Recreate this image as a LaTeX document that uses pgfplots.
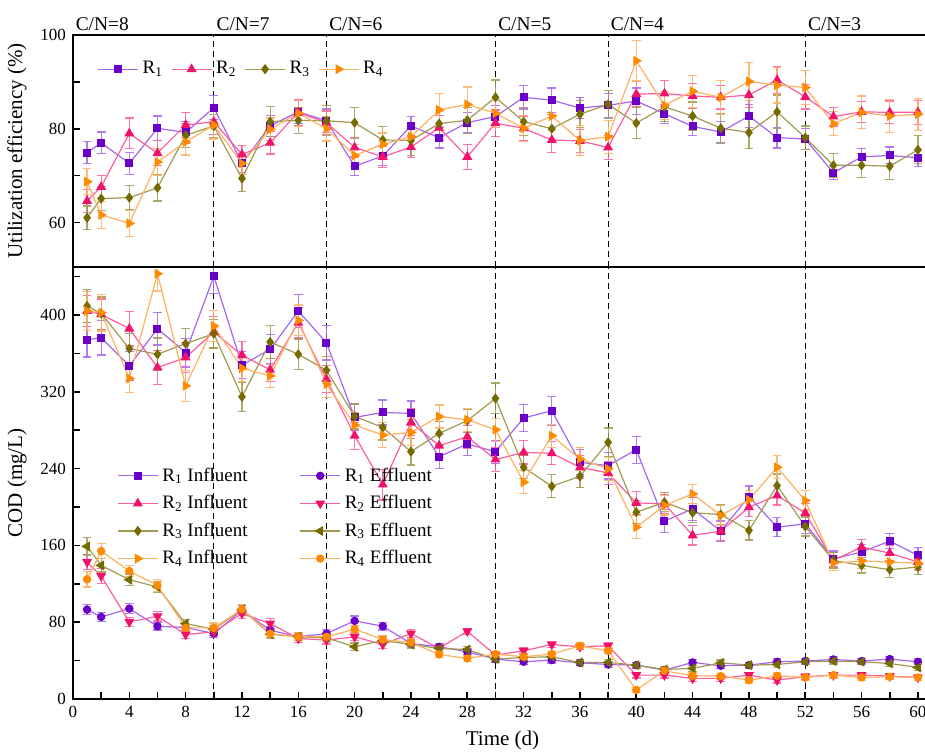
\documentclass[border=0pt]{standalone}
\usepackage{fontspec}
\setmainfont{Liberation Serif}
\usepackage{pgfplots}
\usepackage{pgfplotstable}
\pgfplotsset{compat=1.18}
\usetikzlibrary{calc}

\definecolor{c1}{HTML}{6A00C8}\definecolor{c1l}{HTML}{A465F0}
\definecolor{c2}{HTML}{F0116B}\definecolor{c2l}{HTML}{FF5C9D}
\definecolor{c3}{HTML}{756B00}\definecolor{c3l}{HTML}{A09A50}
\definecolor{c4}{HTML}{FF8A00}\definecolor{c4l}{HTML}{FFB060}

% day, R1, err, R2, err, R3, err, R4, err
\pgfplotstableread{
d a ea b eb c ec f ef
1  74.9 2.4 64.6 2.4 61.0 2.5 68.7 2.8
2  77.0 2.3 67.6 2.4 65.1 2.5 61.6 2.8
4  72.6 2.3 79.0 3.3 65.3 2.6 59.8 2.8
6  80.1 2.6 74.8 2.7 67.4 2.8 72.9 2.8
8  79.2 2.4 80.8 2.7 78.6 2.6 77.2 2.8
10 84.5 2.6 81.5 2.8 80.6 2.5 80.8 3.0
12 72.6 2.0 74.5 2.0 69.4 2.8 72.6 2.4
14 80.6 2.2 77.0 2.4 81.5 3.2 79.9 2.4
16 83.6 2.4 83.5 2.8 81.8 2.8 83.3 2.8
18 81.7 2.5 81.3 2.5 81.7 3.2 80.0 2.6
20 72.0 2.0 76.0 2.2 81.3 3.3 74.3 2.4
22 74.2 2.0 74.0 2.2 77.6 2.8 76.7 2.4
24 80.6 2.0 76.1 2.2 77.5 3.2 78.3 2.8
26 78.1 2.2 80.2 2.6 81.1 2.8 84.0 3.5
28 81.3 2.2 74.0 2.7 81.8 2.8 85.2 3.7
30 82.6 2.4 81.2 2.8 86.7 3.7 83.3 3.0
32 86.7 2.5 80.1 2.6 81.5 3.0 80.1 2.8
34 86.1 2.6 77.6 2.6 80.0 3.0 82.7 3.0
36 84.4 2.2 77.4 2.4 83.1 2.9 77.5 3.2
38 85.0 2.6 76.0 2.6 85.2 3.0 78.3 3.5
40 85.9 2.8 87.4 2.7 81.2 3.3 94.5 4.3
42 83.2 2.0 87.5 2.8 84.7 3.2 85.0 3.0
44 80.5 2.0 87.0 2.6 82.7 3.0 88.0 3.4
46 79.3 2.2 86.7 2.5 80.1 3.2 86.7 3.6
48 82.7 2.4 87.2 2.6 79.2 3.5 90.1 4.1
50 78.1 2.2 90.4 2.8 83.6 3.6 89.3 3.8
52 77.8 2.2 86.8 2.6 78.1 2.5 88.8 3.6
54 70.6 1.5 82.6 2.0 72.2 2.6 81.1 2.5
56 74.0 1.8 83.6 2.2 72.2 2.6 83.5 3.5
58 74.3 1.8 83.5 2.4 72.0 2.8 82.7 3.5
60 73.8 1.8 83.5 2.6 75.5 3.0 83.1 3.4
}\eff

\pgfplotstableread{
d a ea b eb c ec f ef
1  374.2 18 404.2 16 409.4 17 404.2 20
2  376.4 18 400.7 16 401.7 17 402.4 19
4  347.0 15 385.8 18 365.0 16 333.9 15
6  385.8 17 345.3 18 359.1 17 443.0 18
8  360.8 15 355.7 16 370.2 16 326.2 16
10 440.5 18 382.3 16 380.6 15 388.6 16
12 347.7 14 358.1 14 314.8 15 344.6 14
14 364.3 15 342.9 12 371.9 17 336.6 12
16 404.2 17 392.0 16 359.1 16 394.4 16
18 371.2 18 333.2 14 342.5 14 328.0 14
20 293.3 14 274.3 14 294.3 13 285.4 13
22 298.5 13 223.4 16 282.9 13 274.9 13
24 297.5 13 288.1 14 257.7 14 277.7 14
26 252.5 12 263.9 12 276.7 12 294.3 12
28 265.6 12 273.2 12 289.9 12 290.9 12
30 257.7 12 249.4 12 313.1 16 280.5 12
32 292.7 14 256.9 12 241.4 12 225.8 12
34 300.3 15 255.9 12 221.6 12 274.3 12
36 246.6 13 241.4 12 232.0 12 250.1 12
38 243.1 14 235.5 12 267.4 15 239.7 12
40 259.7 14 204.3 12 194.6 12 179.0 12
42 185.3 12 203.3 10 205.0 10 201.6 10
44 198.1 12 170.4 10 194.0 10 213.7 10
46 174.9 11 174.9 10 192.2 10 191.2 10
48 210.9 11 199.8 10 175.6 10 207.5 10
50 179.0 10 212.0 10 222.3 12 241.4 12
52 182.5 10 193.6 10 179.7 10 206.8 10
54 146.1 8 144.4 8 144.4 8 141.6 8
56 153.1 8 158.3 8 139.2 8 143.7 8
58 164.5 8 152.0 8 134.7 8 142.7 8
60 149.6 8 142.7 8 137.5 8 141.6 8
}\infl

\pgfplotstableread{
d a ea b eb c ec f ef
1  93.2 5 142.7 8 159.0 9 124.7 8
2  85.5 5 128.1 8 139.2 7 154.1 8
4  94.2 5 80.3 5 124.3 6 133.3 6
6  75.8 4 86.2 5 116.7 6 118.4 6
8  74.5 4 67.2 4 78.6 4 74.1 4
10 68.2 4 69.9 4 72.7 4 74.1 5
12 92.5 5 89.0 5 93.2 5 93.5 5
14 71.7 4 78.6 5 67.5 4 68.2 4
16 64.8 4 63.1 4 64.8 4 64.8 4
18 68.2 4 61.3 4 63.7 4 64.8 4
20 81.4 5 64.8 4 54.4 4 72.7 4
22 75.8 4 56.8 4 61.0 4 61.9 4
24 57.8 4 68.2 4 56.8 4 58.9 4
26 54.4 3 52.7 3 52.7 3 46.4 3
28 49.2 3 70.6 3 51.6 3 42.3 3
30 41.6 3 45.7 3 41.6 3 46.8 3
32 38.8 3 50.2 3 43.3 3 44.0 3
34 40.5 3 56.8 3 44.0 3 46.8 3
36 37.7 3 54.4 3 38.1 3 55.4 3
38 36.0 3 55.4 3 38.1 3 50.2 3
40 35.3 3 24.9 3 35.3 3 9.4 3
42 30.1 3 24.9 3 30.8 3 29.4 3
44 38.1 3 21.5 3 31.9 3 24.2 3
46 34.6 3 21.5 3 37.7 3 23.9 3
48 35.3 3 24.9 3 35.3 3 19.7 3
50 38.8 3 19.7 3 36.0 3 24.2 3
52 39.5 3 23.2 3 38.8 3 22.5 3
54 41.2 3 24.9 3 39.5 3 24.9 3
56 39.5 3 24.9 3 38.8 3 22.5 3
58 41.6 3 23.9 3 37.0 3 23.2 3
60 38.8 3 22.5 3 32.9 3 22.5 3
}\effl

\pgfplotsset{
  base/.style={
    scale only axis, width=429.5pt, xmin=0, xmax=61,
    axis line style={line width=1.1pt},
    tick align=inside, tick pos=left,
    major tick length=3.5pt, minor tick length=3.5pt,
    every tick/.style={black, line width=0.8pt},
    ticklabel style={font=\fontsize{8.5}{10}\selectfont},
    /pgf/number format/assume math mode=true,
    label style={font=\fontsize{10.5}{12}\selectfont},
    ylabel style={at={(axis description cs:0,0.5)}, anchor=center, yshift=28pt},
    legend cell align=left,
    legend image code/.code={\draw[mark repeat=2,mark phase=2] plot coordinates {(0pt,0pt) (10pt,0pt) (20pt,0pt)};},
  },
  ser/.style n args={5}{color=#2, line width=0.6pt, mark=#3,
    mark options={solid, fill=#1, draw=#1, mark size=#5, rotate=#4},
    /pgfplots/error bars/y dir=both, /pgfplots/error bars/y explicit,
    /pgfplots/error bars/error bar style={color=#2, line width=0.6pt, opacity=0.85},
    /pgfplots/error bars/error mark options={color=#2, mark size=2.2pt, line width=0.6pt, opacity=0.85, rotate=90}},
  cn/.style={black, forget plot, dash pattern=on 3pt off 2pt, line width=0.6pt},
}

\begin{document}
\begin{tikzpicture}
\begin{axis}[name=bot, base, height=216pt, ymin=0, ymax=450,
  xtick={0,4,...,60}, minor xtick={2,6,...,58},
  ytick={0,80,...,400}, minor ytick={40,120,...,440},
  xlabel={Time (d)},
  xlabel style={at={(axis description cs:0.5,0)}, anchor=center, yshift=-20.5pt},
  ylabel={COD (mg/L)},
  legend columns=2,
  legend style={draw=none, fill=none, at={(0.044,0.555)}, anchor=north west,
    font=\fontsize{9.5}{11}\selectfont, row sep=1.6pt,
    /tikz/every even column/.append style={column sep=24pt}},
]
\addplot[cn] coordinates {(10,0) (10,450)};
\addplot[cn] coordinates {(18,0) (18,450)};
\addplot[cn] coordinates {(30,0) (30,450)};
\addplot[cn] coordinates {(38,0) (38,450)};
\addplot[cn] coordinates {(52,0) (52,450)};
\addplot[ser={c1}{c1l}{square*}{0}{1.7pt}] table[x=d, y=a, y error=ea] {\infl};
\addlegendentry{R\textsubscript{1} Influent}
\addplot[ser={c1}{c1l}{*}{0}{1.8pt}] table[x=d, y=a, y error=ea] {\effl};
\addlegendentry{R\textsubscript{1} Effluent}
\addplot[ser={c2}{c2l}{triangle*}{0}{2.3pt}] table[x=d, y=b, y error=eb] {\infl};
\addlegendentry{R\textsubscript{2} Influent}
\addplot[ser={c2}{c2l}{triangle*}{180}{2.3pt}] table[x=d, y=b, y error=eb] {\effl};
\addlegendentry{R\textsubscript{2} Effluent}
\addplot[ser={c3}{c3l}{diamond*}{0}{2.1pt}] table[x=d, y=c, y error=ec] {\infl};
\addlegendentry{R\textsubscript{3} Influent}
\addplot[ser={c3}{c3l}{triangle*}{90}{2.3pt}] table[x=d, y=c, y error=ec] {\effl};
\addlegendentry{R\textsubscript{3} Effluent}
\addplot[ser={c4}{c4l}{triangle*}{-90}{2.3pt}] table[x=d, y=f, y error=ef] {\infl};
\addlegendentry{R\textsubscript{4} Influent}
\addplot[ser={c4}{c4l}{*}{0}{1.8pt}] table[x=d, y=f, y error=ef] {\effl};
\addlegendentry{R\textsubscript{4} Effluent}
\end{axis}

\begin{axis}[name=top, base, at={(bot.north west)}, anchor=south west,
  height=116pt, ymin=50.5, ymax=100, clip=false,
  xtick=\empty, ytick={60,80,100}, minor ytick={70,90},
  ylabel={Utilization efficiency (\%)},
  legend columns=4,
  legend style={draw=none, fill=none, at={(0.021,0.922)}, anchor=north west,
    font=\fontsize{9.5}{11}\selectfont,
    /tikz/every even column/.append style={column sep=2pt}},
]
\addplot[cn] coordinates {(10,50.5) (10,100)};
\addplot[cn] coordinates {(18,50.5) (18,100)};
\addplot[cn] coordinates {(30,50.5) (30,100)};
\addplot[cn] coordinates {(38,50.5) (38,100)};
\addplot[cn] coordinates {(52,50.5) (52,100)};
\addplot[ser={c1}{c1l}{square*}{0}{1.7pt}] table[x=d, y=a, y error=ea] {\eff};
\addlegendentry{R\textsubscript{1}}
\addplot[ser={c2}{c2l}{triangle*}{0}{2.3pt}] table[x=d, y=b, y error=eb] {\eff};
\addlegendentry{R\textsubscript{2}}
\addplot[ser={c3}{c3l}{diamond*}{0}{2.1pt}] table[x=d, y=c, y error=ec] {\eff};
\addlegendentry{R\textsubscript{3}}
\addplot[ser={c4}{c4l}{triangle*}{-90}{2.3pt}] table[x=d, y=f, y error=ef] {\eff};
\addlegendentry{R\textsubscript{4}}
\foreach \x/\t in {0/8,10/7,18/6,30/5,38/4,52/3}{
  \edef\tmp{\noexpand\node[anchor=base west, inner sep=0pt, xshift=1.2pt, yshift=2.5pt,
    font=\noexpand\fontsize{9.7}{11}\noexpand\selectfont] at (axis cs:\x,100) {C/N=\t};}
  \tmp
}
\end{axis}

\pgfresetboundingbox
\path[use as bounding box] ($(bot.south west)+(-36.5pt,-26.5pt)$) rectangle ($(bot.south west)+(426pt,349.5pt)$);
\end{tikzpicture}
\end{document}
